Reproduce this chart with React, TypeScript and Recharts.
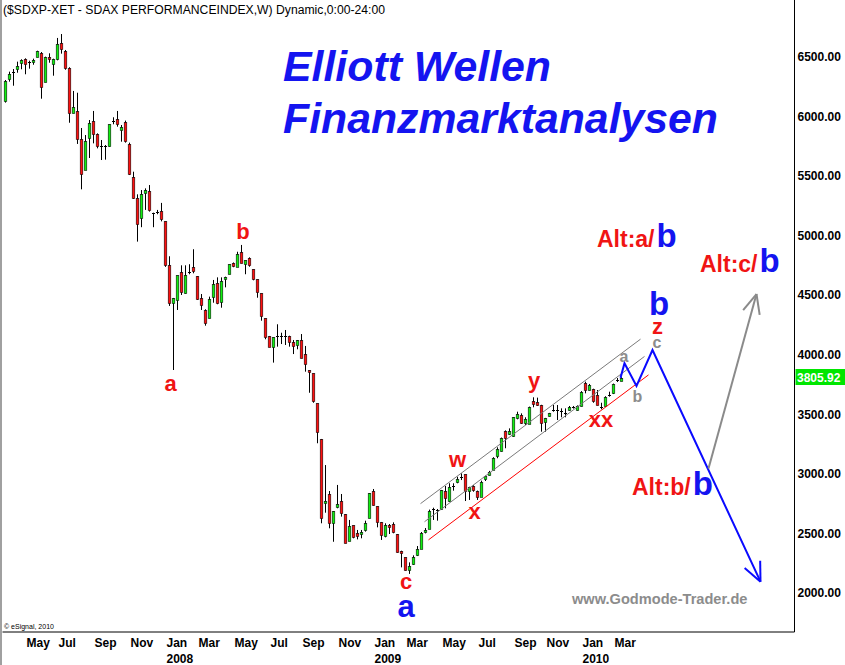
import React from 'react'
import { ComposedChart, Bar, Line, XAxis, YAxis } from 'recharts'

const FONT = '"Liberation Sans", Arial, sans-serif'

// weekly bars (Monday dates), Apr 2007 .. plus empty weeks for the projection
const START = Date.UTC(2007, 3, 2)
const WEEKS = 198
const dates = Array.from({ length: WEEKS }, (_, i) =>
  new Date(START + i * 7 * 864e5).toISOString().slice(0, 10)
)

const open = [
  6131, 6318, 6370, 6397, 6444, 6481, 6448, 6458, 6497, 6536,
  6288, 6497, 6444, 6483, 6615, 6550, 6405, 6027, 6047, 5812,
  5552, 5814, 5963, 5851, 5750, 5750, 5753, 5960, 5979, 5890,
  5952, 5770, 5492, 5316, 5147, 5361, 5372, 5190, 5199, 5205,
  5121, 4751, 4432, 4460, 4695, 4513, 4695, 4734, 4661, 4474,
  4376, 4306, 4482, 4600, 4441, 4634, 4676, 4768, 4739, 4860,
  4760, 4810, 4718, 4634, 4516, 4306, 4158, 4063, 4152, 4155,
  4158, 4158, 4107, 4080, 4124, 4006, 3870, 3844, 3592, 3293,
  2753, 2829, 2585, 2719, 2772, 2663, 2439, 2568, 2506, 2495,
  2529, 2627, 2856, 2728, 2596, 2472, 2571, 2579, 2495, 2355,
  2299, 2193, 2249, 2319, 2369, 2512, 2543, 2700, 2700, 2702,
  2856, 2775, 2895, 2926, 2970, 2996, 2859, 2898, 2856, 2808,
  2954, 2990, 3032, 3144, 3186, 3360, 3335, 3318, 3467, 3494,
  3427, 3419, 3614, 3606, 3578, 3433, 3486, 3536, 3536, 3522,
  3514, 3536, 3559, 3536, 3570, 3765, 3704, 3710, 3662, 3562,
  3570, 3662, 3676, 3782, 3782,
]
const high = [
  6307, 6377, 6399, 6461, 6481, 6489, 6469, 6486, 6553, 6542,
  6503, 6531, 6486, 6660, 6693, 6559, 6414, 6215, 6200, 5904,
  5845, 5971, 6047, 5859, 5803, 5761, 5935, 5994, 6047, 5929,
  5966, 5781, 5537, 5347, 5383, 5397, 5425, 5193, 5216, 5275,
  5121, 4827, 4477, 4667, 4751, 4751, 4760, 4886, 4661, 4510,
  4382, 4488, 4628, 4650, 4650, 4656, 4760, 4775, 4865, 4922,
  4793, 4818, 4718, 4634, 4516, 4306, 4158, 4147, 4256, 4185,
  4208, 4160, 4124, 4124, 4174, 4074, 3870, 3844, 3592, 3293,
  3074, 2856, 2688, 2907, 2831, 2663, 2613, 2568, 2529, 2529,
  2607, 2839, 2873, 2728, 2596, 2585, 2579, 2593, 2495, 2355,
  2299, 2257, 2316, 2394, 2512, 2545, 2700, 2716, 2705, 2865,
  2898, 2921, 2921, 2976, 3005, 2996, 2892, 2905, 2860, 2943,
  2985, 3025, 3140, 3223, 3305, 3365, 3382, 3477, 3522, 3508,
  3475, 3565, 3643, 3640, 3580, 3470, 3512, 3578, 3578, 3550,
  3550, 3570, 3570, 3575, 3695, 3774, 3755, 3715, 3704, 3597,
  3652, 3690, 3758, 3805, 3812,
]
const low = [
  6117, 6293, 6259, 6368, 6397, 6355, 6402, 6435, 6497, 6150,
  6288, 6452, 6343, 6472, 6528, 6393, 5948, 6027, 5770, 5389,
  5552, 5652, 5775, 5733, 5635, 5638, 5747, 5935, 5915, 5789,
  5781, 5509, 5308, 4950, 5071, 5216, 5202, 5071, 5180, 5120,
  4738, 4410, 3872, 4376, 4502, 4513, 4676, 4684, 4460, 4376,
  4244, 4306, 4437, 4424, 4395, 4566, 4676, 4735, 4739, 4768,
  4676, 4739, 4625, 4479, 4286, 4130, 4063, 3934, 4068, 4090,
  4082, 4068, 4006, 4046, 3970, 3858, 3681, 3597, 3257, 2585,
  2674, 2543, 2430, 2711, 2641, 2417, 2439, 2459, 2450, 2459,
  2515, 2627, 2733, 2551, 2445, 2467, 2495, 2501, 2338, 2215,
  2187, 2160, 2235, 2310, 2369, 2500, 2540, 2613, 2607, 2698,
  2711, 2766, 2859, 2921, 2948, 2772, 2781, 2850, 2781, 2808,
  2940, 2985, 3032, 3131, 3186, 3215, 3326, 3310, 3458, 3419,
  3410, 3419, 3559, 3570, 3354, 3354, 3480, 3522, 3452, 3475,
  3475, 3530, 3548, 3530, 3565, 3676, 3700, 3597, 3575, 3542,
  3565, 3648, 3670, 3771, 3778,
]
const close = [
  6299, 6357, 6376, 6422, 6472, 6435, 6455, 6475, 6548, 6251,
  6497, 6477, 6486, 6609, 6565, 6410, 6027, 6078, 5809, 5515,
  5795, 5943, 5851, 5750, 5755, 5756, 5935, 5965, 5937, 5915,
  5789, 5518, 5319, 5098, 5350, 5383, 5216, 5186, 5197, 5135,
  4749, 4435, 4477, 4667, 4524, 4667, 4698, 4697, 4471, 4418,
  4264, 4466, 4594, 4432, 4617, 4653, 4760, 4743, 4846, 4768,
  4793, 4748, 4634, 4521, 4325, 4147, 4063, 4147, 4155, 4158,
  4155, 4110, 4074, 4124, 3970, 3920, 3850, 3606, 3349, 2627,
  2772, 2585, 2688, 2747, 2669, 2422, 2562, 2467, 2478, 2515,
  2590, 2839, 2739, 2593, 2487, 2568, 2557, 2509, 2346, 2336,
  2187, 2226, 2305, 2369, 2504, 2525, 2691, 2708, 2690, 2865,
  2795, 2892, 2901, 2954, 2976, 2856, 2890, 2865, 2803, 2932,
  2980, 3016, 3136, 3206, 3299, 3299, 3362, 3475, 3503, 3425,
  3460, 3559, 3592, 3578, 3425, 3467, 3508, 3540, 3540, 3524,
  3512, 3564, 3561, 3570, 3690, 3710, 3746, 3606, 3578, 3565,
  3648, 3664, 3754, 3784, 3805.92,
]

// trend channel and projected paths: [week, price]
const channelUpper: [string, number][] = [['2009-03-30', 2750], ['2010-04-19', 4131]]
const channelMiddle: [string, number][] = [['2009-04-06', 2598], ['2010-04-26', 3986]]
const channelLower: [string, number][] = [['2009-04-13', 2446], ['2010-05-03', 3831]]
const projectionMain: [string, number][] = [
  ['2010-03-15', 3806], ['2010-03-22', 3929], ['2010-04-12', 3738], ['2010-05-10', 4040], ['2010-11-15', 2095],
]
const projectionAlt: [string, number][] = [['2010-08-16', 3045], ['2010-11-08', 4510]]

const yTicks = [2000, 2500, 3000, 3500, 4000, 4500, 5000, 5500, 6000, 6500]
const xTicks = [
  '2007-05-07', '2007-07-02', '2007-09-03', '2007-11-05', '2008-01-07', '2008-03-03',
  '2008-05-05', '2008-07-07', '2008-09-01', '2008-11-03', '2009-01-05', '2009-03-02',
  '2009-05-04', '2009-07-06', '2009-09-07', '2009-11-02', '2010-01-04', '2010-03-01',
]
const MONTHS = ['Jan', 'Feb', 'Mar', 'Apr', 'May', 'Jun', 'Jul', 'Aug', 'Sep', 'Oct', 'Nov', 'Dec']

const W = 845
const H = 665
const Y_MIN = 1672.3
const Y_MAX = 6978.6
const PLOT_H = 632
const BAND = 4
const PX_PER_PT = PLOT_H / (Y_MAX - Y_MIN)

const lookup = (pts: [string, number][]) => new Map(pts)
const maps = {
  top: lookup(channelUpper),
  mid: lookup(channelMiddle),
  sup: lookup(channelLower),
  proj: lookup(projectionMain),
  alt: lookup(projectionAlt),
}

const rows = dates.map((d, i) => ({
  date: d,
  range: i < close.length ? [low[i], high[i]] : null,
  o: open[i],
  h: high[i],
  l: low[i],
  c: close[i],
  top: maps.top.get(d) ?? null,
  mid: maps.mid.get(d) ?? null,
  sup: maps.sup.get(d) ?? null,
  proj: maps.proj.get(d) ?? null,
  alt: maps.alt.get(d) ?? null,
}))

function Candle(props: any) {
  const { x, y, width, height, payload } = props
  if (!payload || payload.c == null) return <g />
  const { o, h, l, c } = payload
  const top = Math.min(y, y + height)
  const bot = Math.max(y, y + height)
  const k = h > l ? (bot - top) / (h - l) : 0
  const py = (v: number) => top + (h - v) * k
  const cx = Math.floor(x + width / 2) + 0.5
  const bTop = py(Math.max(o, c))
  const bBot = py(Math.min(o, c))
  const up = c >= o
  return (
    <g>
      <line x1={cx} x2={cx} y1={py(h)} y2={py(l)} stroke="#000" strokeWidth={1} />
      {bBot - bTop < 1.5 ? (
        <line x1={cx - 1.5} x2={cx + 1.5} y1={Math.round(bTop) + 0.5} y2={Math.round(bTop) + 0.5} stroke="#000" />
      ) : (
        <rect x={cx - 1.3} y={Math.round(bTop) + 0.5} width={2.6} height={Math.max(1, Math.round(bBot - bTop))}
          fill={up ? '#10f010' : '#ff1010'} stroke="#000" strokeWidth={0.55} />
      )}
    </g>
  )
}

const arrowDot = (pts: [string, number][], color: string) => (props: any) => {
  const { cx, cy, index } = props
  const last = pts[pts.length - 1]
  const prev = pts[pts.length - 2]
  const li = dates.indexOf(last[0])
  if (index !== li || cx == null) return <g key={`d${index}`} />
  const dx = (li - dates.indexOf(prev[0])) * BAND
  const dy = -(last[1] - prev[1]) * PX_PER_PT
  const back = Math.atan2(-dy, -dx)
  const len = 21
  const a1 = back + 0.42
  const a2 = back - 0.42
  return (
    <g key={`d${index}`}>
      <line x1={cx} y1={cy} x2={cx + len * Math.cos(a1)} y2={cy + len * Math.sin(a1)} stroke={color} strokeWidth={2} />
      <line x1={cx} y1={cy} x2={cx + len * Math.cos(a2)} y2={cy + len * Math.sin(a2)} stroke={color} strokeWidth={2} />
    </g>
  )
}

function DateTick({ x, y, payload }: any) {
  const [yy, mm] = String(payload.value).split('-')
  const m = Number(mm) - 1
  return (
    <g fontFamily={FONT} fontWeight="bold" fontSize={12} fill="#000">
      <text x={x + 2} y={y + 14.7}>{MONTHS[m]}</text>
      {m === 0 && <text x={x + 2} y={y + 31.3}>{yy}</text>}
    </g>
  )
}

const RED = '#f01414'
const BLUE = '#1414f0'
const GRAY = '#8c8c8c'

function Annotations() {
  const red = (t: string, x: number, y: number) => (
    <text x={x} y={y} fill={RED} fontSize={22} fontWeight="bold" textAnchor="middle">{t}</text>
  )
  const alt = (t: string, x: number, y: number) => (
    <text x={x} y={y} fontWeight="bold">
      <tspan fill={RED} fontSize={23}>{t}</tspan>
      <tspan fill={BLUE} fontSize={33} dx={2}>b</tspan>
    </text>
  )
  return (
    <svg width={W} height={H} style={{ position: 'absolute', left: 0, top: 0, pointerEvents: 'none' }} fontFamily={FONT}>
      <text x={3} y={14} fontSize={12.5} fill="#000" textLength={382} lengthAdjust="spacingAndGlyphs">
        ($SDXP-XET - SDAX PERFORMANCEINDEX,W) Dynamic,0:00-24:00
      </text>
      <g fill={BLUE} fontSize={43} fontWeight="bold" fontStyle="italic">
        <text x={283} y={81} textLength={268} lengthAdjust="spacingAndGlyphs">Elliott Wellen</text>
        <text x={283} y={133} textLength={435} lengthAdjust="spacingAndGlyphs">Finanzmarktanalysen</text>
      </g>
      {red('b', 243, 239)}
      {red('a', 170.5, 390.7)}
      {red('c', 406, 589)}
      {red('w', 457.5, 466.7)}
      {red('x', 474.5, 519)}
      {red('y', 534, 388)}
      {red('xx', 601, 426.7)}
      {red('z', 657.5, 334)}
      <text x={406} y={617} fill={BLUE} fontSize={31} fontWeight="bold" textAnchor="middle">a</text>
      <text x={659} y={314.5} fill={BLUE} fontSize={33} fontWeight="bold" textAnchor="middle">b</text>
      <g fill={GRAY} fontSize={16} fontWeight="bold" textAnchor="middle">
        <text x={624} y={361.7}>a</text>
        <text x={657} y={347.5}>c</text>
        <text x={637.5} y={401.7}>b</text>
      </g>
      {alt('Alt:a/', 597, 247)}
      {alt('Alt:c/', 700, 272)}
      {alt('Alt:b/', 632, 495)}
      <text x={572} y={603.5} fill={GRAY} fontSize={14.6} fontWeight="bold">www.Godmode-Trader.de</text>
      <text x={4} y={629} fill="#000" fontSize={7}>© eSignal, 2010</text>
      <rect x={795.5} y={369} width={49.5} height={16} fill="#00e600" />
      <text x={797} y={381.5} fill="#fff" fontSize={12} fontWeight="bold">3805.92</text>
    </svg>
  )
}

export default function App() {
  return (
    <div style={{ position: 'absolute', left: 0, top: 0, width: W, height: H, background: '#fff', overflow: 'hidden' }}>
      <ComposedChart width={W} height={H} data={rows} margin={{ top: 0, right: 0, bottom: 0, left: 2.5 }}>
        <XAxis dataKey="date" ticks={xTicks} interval={0} height={33} tickSize={0} tickMargin={0}
          axisLine={{ stroke: '#000' }} tickLine={false} tick={<DateTick />} />
        <YAxis orientation="right" type="number" domain={[Y_MIN, Y_MAX]} allowDataOverflow ticks={yTicks}
          interval={0} width={50.5} tickSize={0} tickMargin={3} axisLine={{ stroke: '#000' }} tickLine={false}
          tickFormatter={(v: number) => v.toFixed(2)}
          tick={{ fontSize: 12, fontWeight: 'bold', fill: '#000', fontFamily: FONT }} />
        <Bar dataKey="range" shape={<Candle />} barSize={3} isAnimationActive={false} />
        <Line dataKey="top" stroke="#7a7a7a" strokeWidth={1} dot={false} connectNulls isAnimationActive={false} />
        <Line dataKey="mid" stroke="#7a7a7a" strokeWidth={1} dot={false} connectNulls isAnimationActive={false} />
        <Line dataKey="sup" stroke="#ff0000" strokeWidth={1} dot={false} connectNulls isAnimationActive={false} />
        <Line dataKey="proj" stroke="#0a0aff" strokeWidth={2} connectNulls isAnimationActive={false}
          dot={arrowDot(projectionMain, '#0a0aff')} activeDot={false} />
        <Line dataKey="alt" stroke="#8a8a8a" strokeWidth={2} connectNulls isAnimationActive={false}
          dot={arrowDot(projectionAlt, '#8a8a8a')} activeDot={false} />
      </ComposedChart>
      <div style={{ position: 'absolute', left: 0, top: 0, width: 2, height: H, background: '#a0a0a0' }} />
      <Annotations />
    </div>
  )
}
